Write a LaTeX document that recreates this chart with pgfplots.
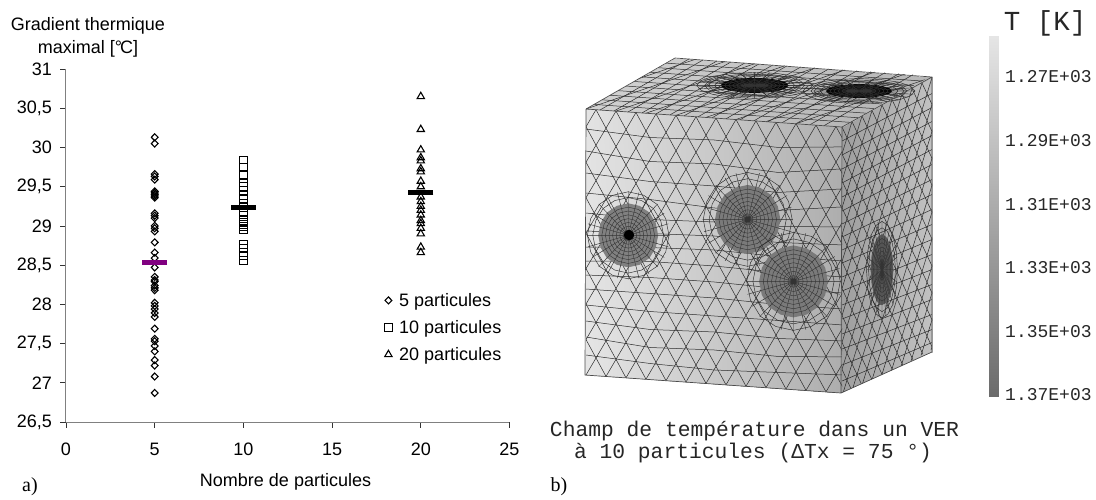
\documentclass[border=0pt]{standalone}
\usepackage{fontspec}
\setmainfont{Liberation Sans}
\setmonofont{Liberation Mono}
\newfontfamily\serif{Liberation Serif}
\usepackage{pgfplots}
\usepackage{pgfplotstable}
\pgfplotsset{compat=1.18}

\definecolor{axisgray}{gray}{0.5}
\definecolor{meanpurple}{RGB}{128,0,128}
\definecolor{meshgray}{gray}{0.17}

\pgfplotsset{
  canvas/.style={hide axis, scale only axis=false, clip=false, unbounded coords=jump},
  meshline/.style={no markers, draw=meshgray, line width=0.5pt},
  greys/.style={colormap={greys}{color(0cm)=(black); color(1cm)=(white)}, point meta min=0, point meta max=1},
}

% unit circle and spokes for the particles of the cube
\pgfplotstableread{
x y
1.00 0.00
0.92 0.38
0.71 0.71
0.38 0.92
0.00 1.00
-0.38 0.92
-0.71 0.71
-0.92 0.38
-1.00 0.00
-0.92 -0.38
-0.71 -0.71
-0.38 -0.92
0.00 -1.00
0.38 -0.92
0.71 -0.71
0.92 -0.38
1.00 0.00
}\unitcircle
\pgfplotstableread{
x y
1.00 0.00
-1.00 0.00
nan nan
0.97 0.26
-0.97 -0.26
nan nan
0.87 0.50
-0.87 -0.50
nan nan
0.71 0.71
-0.71 -0.71
nan nan
0.50 0.87
-0.50 -0.87
nan nan
0.26 0.97
-0.26 -0.97
nan nan
0.00 1.00
0.00 -1.00
nan nan
-0.26 0.97
0.26 -0.97
nan nan
-0.50 0.87
0.50 -0.87
nan nan
-0.71 0.71
0.71 -0.71
nan nan
-0.87 0.50
0.87 -0.50
nan nan
-0.97 0.26
0.97 -0.26
}\unitspokes

% cx cy rx ry ring-colour
\newcommand\ring[6][0.45pt]{\addplot[no markers, draw=#6, line width=#1] table[x expr=#2+#4*\thisrow{x}, y expr=#3+#5*\thisrow{y}] {\unitcircle};}
\newcommand\spokes[5]{\addplot[no markers, draw=#5, line width=0.4pt] table[x expr=#1+#3*\thisrow{x}, y expr=#2+#4*\thisrow{y}] {\unitspokes};}
\newcommand\particle[5]{%
  \spokes{#1}{#2}{1.38*#3}{1.38*#4}{meshgray}
  \ring[0.45pt]{#1}{#2}{1.18*#3}{1.18*#4}{meshgray}
  \ring[0.45pt]{#1}{#2}{1.36*#3}{1.36*#4}{meshgray}
  \addplot[no markers, draw=none, fill=#5] table[x expr=#1+#3*\thisrow{x}, y expr=#2+#4*\thisrow{y}] {\unitcircle};
  \spokes{#1}{#2}{#3}{#4}{black!80}
  \ring[0.4pt]{#1}{#2}{0.88*#3}{0.88*#4}{black!80}
  \ring[0.4pt]{#1}{#2}{0.76*#3}{0.76*#4}{black!80}
  \ring[0.4pt]{#1}{#2}{0.64*#3}{0.64*#4}{black!80}
  \ring[0.4pt]{#1}{#2}{0.52*#3}{0.52*#4}{black!80}
  \ring[0.4pt]{#1}{#2}{0.40*#3}{0.40*#4}{black!80}
  \ring[0.4pt]{#1}{#2}{0.28*#3}{0.28*#4}{black!80}
  \ring[0.4pt]{#1}{#2}{0.16*#3}{0.16*#4}{black!80}
}

\begin{document}
\begin{tikzpicture}[x=1pt,y=1pt]
\useasboundingbox (0pt,0pt) rectangle (1096pt,-499pt);

% --- a) scatter ------------------------------------------------------------
\begin{axis}[
    at={(66pt,-422pt)}, anchor=south west,
    scale only axis, width=443.5pt, height=353pt,
    xmin=0, xmax=25, ymin=26.5, ymax=31,
    xtick={0,5,10,15,20,25},
    ytick={26.5,27,27.5,28,28.5,29,29.5,30,30.5,31},
    yticklabels={{26,5},27,{27,5},28,{28,5},29,{29,5},30,{30,5},31},
    axis x line=bottom, axis y line=left,
    x axis line style={-, draw=axisgray, line width=1pt},
    y axis line style={-, draw=axisgray, line width=1pt},
    tick align=outside, major tick length=5.5pt,
    tick style={draw=black!80, line width=0.7pt},
    ticklabel style={font=\fontsize{18}{20}\selectfont},
    yticklabel style={xshift=-5pt},
    xticklabel style={yshift=-12pt},
    /pgf/number format/assume math mode=true,
    xlabel={Nombre de particules},
    every axis x label/.style={at={(axis description cs:0.495,0)}, yshift=-60pt, anchor=center, font=\fontsize{18}{20}\selectfont},
    ylabel={Gradient thermique\\maximal [°\kern-2pt C]},
    every axis y label/.style={at={(axis description cs:0.0,1)}, xshift=22pt, yshift=32pt, anchor=center, align=center, font=\fontsize{18}{23}\selectfont},
    legend style={at={(axis cs:17.95,27.24)}, anchor=south west, draw=none, fill=none,
        font=\fontsize{18}{20}\selectfont, row sep=8.5pt, inner sep=0pt, column sep=5pt},
    legend cell align=left,
    clip=false,
  ]
  \addplot[only marks, mark=diamond, mark size=3.5pt, mark options={xscale=1.3, line width=1.1pt, draw=black}] coordinates {
    (5,30.13) (5,30.05) (5,29.66) (5,29.63) (5,29.59) (5,29.44) (5,29.42) (5,29.40) (5,29.38) (5,29.36)
    (5,29.16) (5,29.13) (5,29.10) (5,29.00) (5,28.97) (5,28.93) (5,28.79) (5,28.66) (5,28.59) (5,28.47)
    (5,28.35) (5,28.31) (5,28.29) (5,28.24) (5,28.21) (5,28.18) (5,28.02) (5,27.98) (5,27.94) (5,27.89)
    (5,27.84) (5,27.69) (5,27.56) (5,27.53) (5,27.47) (5,27.40) (5,27.29) (5,27.22) (5,27.08) (5,26.87)
  };
  \addlegendentry{5 particules}
  \addplot[only marks, mark=square, mark size=3.8pt, mark options={line width=1.1pt, draw=black}] coordinates {
    (10,29.84) (10,29.75) (10,29.65) (10,29.55) (10,29.50) (10,29.45) (10,29.39) (10,29.34) (10,29.29)
    (10,29.18) (10,29.14) (10,29.07) (10,29.02) (10,28.99) (10,28.95)
    (10,28.76) (10,28.71) (10,28.66) (10,28.62) (10,28.56)
  };
  \addlegendentry{10 particules}
  \addplot[only marks, mark=triangle, mark size=4.2pt, mark options={line width=1.1pt, draw=black}] coordinates {
    (20,30.65) (20,30.23) (20,29.97) (20,29.87) (20,29.83) (20,29.73) (20,29.69) (20,29.57) (20,29.50)
    (20,29.37) (20,29.31) (20,29.25) (20,29.20) (20,29.14) (20,29.07) (20,29.03) (20,28.97) (20,28.90)
    (20,28.73) (20,28.66)
  };
  \addlegendentry{20 particules}
  % means
  \addplot[forget plot, only marks, mark=-, mark size=12.5pt, mark options={line width=5pt, draw=meanpurple}] coordinates {(5,28.53)};
  \addplot[forget plot, only marks, mark=-, mark size=12.5pt, mark options={line width=5pt, draw=black}] coordinates {(10,29.23)};
  \addplot[forget plot, only marks, mark=-, mark size=12.5pt, mark options={line width=5pt, draw=black}] coordinates {(20,29.43)};
\end{axis}

% --- b) cube, faces first, in pixel coordinates ----------------------------
\begin{axis}[canvas, greys, at={(0pt,0pt)}, anchor=origin, x=1pt, y=-1pt,
    xmin=0, xmax=1096, ymin=0, ymax=499]
  \addplot[patch, patch type=rectangle, shader=interp, point meta=explicit] coordinates {
    (586,109) [0.89] (842,127) [0.68] (841,393) [0.68] (585,375) [0.90]};
  \addplot[patch, patch type=rectangle, shader=interp, point meta=explicit] coordinates {
    (842,127) [0.62] (932,77) [0.76] (932,352) [0.76] (841,393) [0.62]};
  \addplot[patch, patch type=rectangle, shader=interp, point meta=explicit] coordinates {
    (586,109) [0.82] (675,58) [0.80] (932,77) [0.72] (842,127) [0.72]};
\end{axis}

% front face mesh, local frame of the face
\begin{axis}[canvas, clip=true, at={(586pt,-109pt)}, anchor=origin,
    x={(1pt,-0.07pt)}, y={(0pt,-1pt)}, xmin=0, xmax=256, ymin=0, ymax=266]
  \addplot[meshline] coordinates {
    (0,20)(64,24)(128,22)(192,25)(256,20)(nan,nan)
    (0,42)(64,48)(128,46)(192,50)(256,42)(nan,nan)
    (0,64)(64,68)(128,68)(192,70)(256,62)(nan,nan)
    (0,84)(64,86)(128,90)(192,88)(256,80)(nan,nan)
    (0,104)(64,106)(128,104)(192,104)(256,100)(nan,nan)
    (0,122)(64,120)(128,118)(192,120)(256,118)(nan,nan)
    (0,138)(64,134)(128,132)(192,134)(256,134)(nan,nan)
    (0,152)(64,148)(128,148)(192,150)(256,150)(nan,nan)
    (0,166)(64,164)(128,164)(192,166)(256,166)(nan,nan)
    (0,180)(64,180)(128,180)(192,182)(256,182)(nan,nan)
    (0,196)(64,198)(128,198)(192,198)(256,198)(nan,nan)
    (0,212)(64,216)(128,214)(192,216)(256,214)(nan,nan)
    (0,228)(64,234)(128,232)(192,234)(256,230)(nan,nan)
    (0,246)(64,250)(128,252)(192,250)(256,248)
  };
  \addplot[meshline] coordinates {
    (-150,0)(0,266)(nan,nan) (-130,0)(20,266)(nan,nan) (-110,0)(40,266)(nan,nan) (-90,0)(60,266)(nan,nan)
    (-70,0)(80,266)(nan,nan) (-50,0)(100,266)(nan,nan) (-30,0)(120,266)(nan,nan) (-10,0)(140,266)(nan,nan)
    (10,0)(160,266)(nan,nan) (30,0)(180,266)(nan,nan) (50,0)(200,266)(nan,nan) (70,0)(220,266)(nan,nan)
    (90,0)(240,266)(nan,nan) (110,0)(260,266)(nan,nan) (130,0)(280,266)(nan,nan) (150,0)(300,266)(nan,nan)
    (170,0)(320,266)(nan,nan) (190,0)(340,266)(nan,nan) (210,0)(360,266)(nan,nan) (230,0)(380,266)(nan,nan)
    (250,0)(400,266)
  };
  \addplot[meshline] coordinates {
    (10,0)(-140,266)(nan,nan) (30,0)(-120,266)(nan,nan) (50,0)(-100,266)(nan,nan) (70,0)(-80,266)(nan,nan)
    (90,0)(-60,266)(nan,nan) (110,0)(-40,266)(nan,nan) (130,0)(-20,266)(nan,nan) (150,0)(0,266)(nan,nan)
    (170,0)(20,266)(nan,nan) (190,0)(40,266)(nan,nan) (210,0)(60,266)(nan,nan) (230,0)(80,266)(nan,nan)
    (250,0)(100,266)(nan,nan) (270,0)(120,266)(nan,nan) (290,0)(140,266)(nan,nan) (310,0)(160,266)(nan,nan)
    (330,0)(180,266)(nan,nan) (350,0)(200,266)(nan,nan) (370,0)(220,266)(nan,nan) (390,0)(240,266)
  };
\end{axis}

% right face mesh
\begin{axis}[canvas, clip=true, at={(842pt,-127pt)}, anchor=origin,
    x={(1pt,0.55pt)}, y={(0pt,-1pt)}, xmin=0, xmax=90, ymin=0, ymax=272]
  \addplot[meshline] coordinates {
    (0,14)(90,16)(nan,nan) (0,28)(90,30)(nan,nan) (0,42)(90,44)(nan,nan) (0,56)(90,58)(nan,nan)
    (0,70)(90,72)(nan,nan) (0,84)(90,87)(nan,nan) (0,97)(90,102)(nan,nan) (0,110)(90,117)(nan,nan)
    (0,123)(90,132)(nan,nan) (0,136)(90,147)(nan,nan) (0,150)(90,162)(nan,nan) (0,164)(90,177)(nan,nan)
    (0,178)(90,192)(nan,nan) (0,192)(90,207)(nan,nan) (0,207)(90,222)(nan,nan) (0,222)(90,237)(nan,nan)
    (0,238)(90,252)(nan,nan) (0,254)(90,265)
  };
  \addplot[meshline] coordinates {
    (-100,0)(1,272)(nan,nan) (-90,0)(11,272)(nan,nan) (-80,0)(21,272)(nan,nan) (-70,0)(31,272)(nan,nan)
    (-60,0)(41,272)(nan,nan) (-50,0)(51,272)(nan,nan) (-40,0)(61,272)(nan,nan) (-30,0)(71,272)(nan,nan)
    (-20,0)(81,272)(nan,nan) (-10,0)(91,272)(nan,nan) (0,0)(101,272)(nan,nan) (10,0)(111,272)(nan,nan)
    (20,0)(121,272)(nan,nan) (30,0)(131,272)(nan,nan) (40,0)(141,272)(nan,nan) (50,0)(151,272)(nan,nan)
    (60,0)(161,272)(nan,nan) (70,0)(171,272)(nan,nan) (80,0)(181,272)
  };
  \addplot[meshline] coordinates {
    (10,0)(-91,272)(nan,nan) (20,0)(-81,272)(nan,nan) (30,0)(-71,272)(nan,nan) (40,0)(-61,272)(nan,nan)
    (50,0)(-51,272)(nan,nan) (60,0)(-41,272)(nan,nan) (70,0)(-31,272)(nan,nan) (80,0)(-21,272)(nan,nan)
    (90,0)(-11,272)(nan,nan) (100,0)(-1,272)(nan,nan) (110,0)(9,272)(nan,nan) (120,0)(19,272)(nan,nan)
    (130,0)(29,272)(nan,nan) (140,0)(39,272)(nan,nan) (150,0)(49,272)(nan,nan) (160,0)(59,272)(nan,nan)
    (170,0)(69,272)(nan,nan) (180,0)(79,272)(nan,nan) (190,0)(89,272)
  };
\end{axis}

% top face mesh
\begin{axis}[canvas, clip=true, at={(586pt,-109pt)}, anchor=origin,
    x={(1pt,-0.07pt)}, y={(0.89pt,0.51pt)}, xmin=0, xmax=256, ymin=0, ymax=100]
  \addplot[meshline] coordinates {
    (0,9)(256,9)(nan,nan) (0,18)(256,18)(nan,nan) (0,27)(256,27)(nan,nan) (0,36)(256,36)(nan,nan)
    (0,45)(256,45)(nan,nan) (0,54)(256,54)(nan,nan) (0,63)(256,63)(nan,nan) (0,72)(256,72)(nan,nan)
    (0,81)(256,81)(nan,nan) (0,90)(256,90)
  };
  \addplot[meshline] coordinates {
    (14,0)(14,100)(nan,nan) (28,0)(28,100)(nan,nan) (42,0)(42,100)(nan,nan) (56,0)(56,100)(nan,nan)
    (70,0)(70,100)(nan,nan) (84,0)(84,100)(nan,nan) (98,0)(98,100)(nan,nan) (112,0)(112,100)(nan,nan)
    (126,0)(126,100)(nan,nan) (140,0)(140,100)(nan,nan) (154,0)(154,100)(nan,nan) (168,0)(168,100)(nan,nan)
    (182,0)(182,100)(nan,nan) (196,0)(196,100)(nan,nan) (210,0)(210,100)(nan,nan) (224,0)(224,100)(nan,nan)
    (238,0)(238,100)
  };
  \addplot[meshline] coordinates {
    (-30,0)(20,100)(nan,nan) (0,0)(50,100)(nan,nan) (30,0)(80,100)(nan,nan) (60,0)(110,100)(nan,nan)
    (90,0)(140,100)(nan,nan) (120,0)(170,100)(nan,nan) (150,0)(200,100)(nan,nan) (180,0)(230,100)(nan,nan)
    (210,0)(260,100)
  };
\end{axis}

% particles, edges and texts
\begin{axis}[canvas, at={(0pt,0pt)}, anchor=origin, x=1pt, y=-1pt,
    xmin=0, xmax=1096, ymin=0, ymax=499]
  % mesh refinement round the particles of the top face
  \spokes{754.6}{85.4}{58}{13}{meshgray}
  \ring[0.45pt]{754.6}{85.4}{50}{11.5}{meshgray}
  \ring[0.45pt]{754.6}{85.4}{58}{13}{meshgray}
  \spokes{859}{91}{56}{12.5}{meshgray}
  \ring[0.45pt]{859}{91}{48}{11}{meshgray}
  \ring[0.45pt]{859}{91}{56}{12.5}{meshgray}
  \particle{628.2}{235.3}{30}{32}{black!50}
  \addplot[no markers, draw=none, fill=black] table[x expr=629+5*\thisrow{x}, y expr=235+5*\thisrow{y}] {\unitcircle};
  \particle{747.7}{219.4}{32.7}{34.5}{black!52}
  \particle{793.5}{281.4}{34.4}{36}{black!52}
  \particle{882}{269.7}{11.4}{35.5}{black!65}
  \particle{754.6}{85.4}{34}{7.6}{black}
  \particle{859}{91}{33}{7}{black}
  % the right face mesh runs a little past the bottom edge
  \addplot[no markers, draw=none, fill=white] coordinates {(841,393.3)(932,352.3)(932,362)(841,403)(841,393.3)};
  \addplot[no markers, draw=black!70, line width=0.7pt] coordinates {
    (586,109)(675,58)(932,77)(932,352)(841,393)(585,375)(586,109)(nan,nan)
    (586,109)(842,127)(932,77)(nan,nan)(842,127)(841,393)};

  \node[font=\ttfamily\fontsize{21.3}{22}\selectfont, text=black!85, anchor=center] at (axis cs:754.5,431) {Champ de température dans un VER};
  \node[font=\ttfamily\fontsize{21.3}{22}\selectfont, text=black!85, anchor=center] at (axis cs:753,453) {à 10 particules (ΔTx = 75 °)};
  \node[font=\ttfamily\fontsize{27.5}{28}\selectfont, text=black!85, anchor=center] at (axis cs:1045,23) {T [K]};
  \node[font=\serif\fontsize{20}{22}\selectfont, anchor=center] at (axis cs:30,487) {a)};
  \node[font=\serif\fontsize{20}{22}\selectfont, anchor=center] at (axis cs:559,487) {b)};
\end{axis}

% colour bar
\begin{axis}[
    at={(989pt,-396pt)}, anchor=south west, scale only axis, width=9pt, height=360pt,
    greys, xmin=0, xmax=1, ymin=1257.2, ymax=1370.3, y dir=reverse,
    axis line style={draw=none}, major tick length=0pt, xtick=\empty,
    ytick={1270,1290,1310,1330,1350,1370},
    yticklabels={1.27E+03,1.29E+03,1.31E+03,1.33E+03,1.35E+03,1.37E+03},
    yticklabel pos=right,
    yticklabel style={font=\ttfamily\fontsize{18}{18}\selectfont, text=black!85, inner sep=0pt, anchor=west, xshift=7pt},
  ]
  \addplot[patch, patch type=rectangle, shader=interp, point meta=explicit] coordinates {
    (0,1257.2) [0.90] (1,1257.2) [0.90] (1,1370.3) [0.42] (0,1370.3) [0.42]};
\end{axis}
\end{tikzpicture}
\end{document}
